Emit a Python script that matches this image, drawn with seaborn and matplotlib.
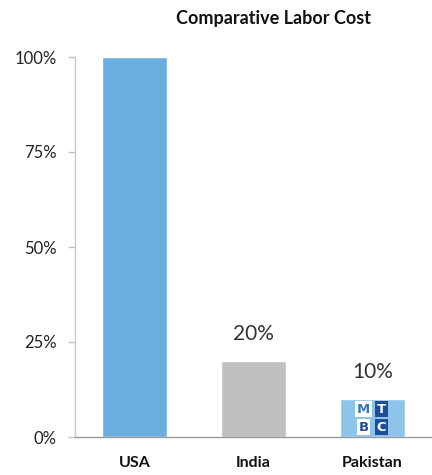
import matplotlib
matplotlib.use("Agg")
import matplotlib.pyplot as plt
import seaborn as sns
import pandas as pd

categories = ["USA", "India", "Pakistan"]
values = [1.00, 0.20, 0.10]
labels = ["", "20%", "10%"]
yticks = [0, 0.25, 0.5, 0.75, 1.0]
ytick_labels = ["0%", "25%", "50%", "75%", "100%"]
colors = ["#6AAEE0", "#BFBFBF", "#8EC3EA"]
title = "Comparative Labor Cost"
logo_letters = ["M", "T", "B", "C"]

sns.set_theme(style="white")
plt.rcParams["font.family"] = ["Lato", "DejaVu Sans"]

df = pd.DataFrame({"country": categories, "value": values})
fig = plt.figure(figsize=(4.32, 4.75), dpi=100)
ax = fig.add_axes([0.1736, 0.08, 0.8264, 0.80])
sns.barplot(data=df, x="country", y="value", hue="country", palette=colors,
            legend=False, width=0.54, ax=ax, saturation=1)

ax.set_xlim(-0.5, 2.5)
ax.set_ylim(0, 1.0)
ax.set_yticks(yticks)
ax.set_yticklabels(ytick_labels, fontsize=12, color="#222222")
ax.set_xticks(range(len(categories)))
ax.set_xticklabels(categories, fontsize=11.5, fontweight="bold", color="#111111")
ax.set_xlabel("")
ax.set_ylabel("")
ax.tick_params(axis="y", length=5, width=1, direction="out", left=True,
               pad=8, color="#BFBFBF")
ax.tick_params(axis="x", length=0, pad=14)

for s in ["top", "right"]:
    ax.spines[s].set_visible(False)
ax.spines["left"].set_color("#C8C8C8")
ax.spines["bottom"].set_color("#9A9A9A")
ax.spines["left"].set_linewidth(1)
ax.spines["bottom"].set_linewidth(1)

for i, (v, lab) in enumerate(zip(values, labels)):
    if lab:
        ax.text(i, v + 0.045, lab, ha="center", va="bottom", fontsize=15,
                color="#333333")

# MTBC logo cells on the Pakistan bar
cell_styles = [("white", "#3A78C0"), ("#1F4E99", "white"),
               ("white", "#1F4E99"), ("#1F4E99", "white")]
offs = [(-0.075, 0.073), (0.075, 0.073), (-0.075, 0.026), (0.075, 0.026)]
for letter, (bg, fg), (dx, dy) in zip(logo_letters, cell_styles, offs):
    ax.text(2 + dx, dy, letter, ha="center", va="center", fontsize=9.5,
            fontweight="bold", color=fg, family="DejaVu Sans",
            bbox=dict(boxstyle="square,pad=0.12", fc=bg, ec="none"))

fig.text(0.634, 0.962, title, ha="center", va="center", fontsize=13,
         fontweight="bold", color="#111111")

fig.savefig("out.png", dpi=100)
